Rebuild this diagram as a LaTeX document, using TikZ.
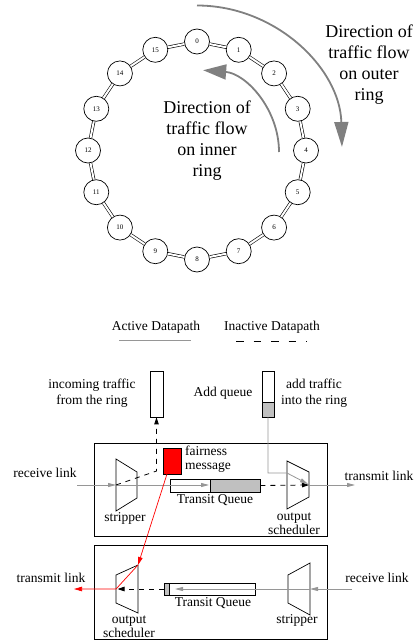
\documentclass[tikz,border=0pt]{standalone}
\usepackage{fontspec}
\setmainfont{Liberation Serif}
\usetikzlibrary{arrows.meta}
\definecolor{arcgray}{RGB}{128,128,128}
\definecolor{lgray}{RGB}{150,150,150}
\definecolor{qgray}{RGB}{192,192,192}
\begin{document}
\begin{tikzpicture}[x=1pt,y=-1pt,
  ringnode/.style={circle,draw,fill=white,minimum size=25pt,inner sep=0pt,line width=0.7pt,font=\fontsize{7}{8}\selectfont},
  ringlink/.style={draw=black,double=white,double distance=2pt,line width=0.6pt},
  flowarc/.style={draw=arcgray,line width=1.8pt,-{Triangle[length=25pt,width=14pt]}},
  flowarcb/.style={draw=arcgray,line width=1.8pt,-{Triangle[length=23pt,width=15pt]}},
  bigtext/.style={font=\fontsize{18}{21}\selectfont,align=center,inner sep=0pt},
  lbl/.style={font=\fontsize{13.5}{15.5}\selectfont,align=center,inner sep=0pt},
  lbltwo/.style={font=\fontsize{13.5}{14}\selectfont,align=center,inner sep=0pt},
  boxframe/.style={draw,line width=0.8pt,inner sep=0pt},
  qbox/.style={draw,line width=0.7pt,inner sep=0pt},
  gline/.style={draw=lgray,line width=0.8pt},
  garrow/.style={gline,-{Triangle[length=8pt,width=4pt]}},
  dline/.style={draw=black,line width=0.8pt,dash pattern=on 5pt off 5pt},
  darrow/.style={dline,-{Triangle[length=7pt,width=4.5pt]}},
  rline/.style={draw=red,line width=0.7pt},
  rarrow/.style={rline,-{Triangle[length=8pt,width=4.5pt]}},
  trap/.style={draw,line width=0.7pt},
]
\useasboundingbox (0,0) rectangle (417,642);

% ---------- ring ----------
\foreach \i in {0,...,15}{
  \node[ringnode] (n\i) at ({197+109*sin(22.5*\i)},{150.5-109*cos(22.5*\i)}) {\i};
}
\foreach \i in {0,...,15}{
  \pgfmathtruncatemacro{\j}{mod(\i+1,16)}
  \draw[ringlink] (n\i) -- (n\j);
}
\coordinate (outs) at (197,5.5);
\draw[flowarc] (outs) arc[start angle=270,end angle=358.6,radius=145];
\coordinate (ins) at (279,152);
\draw[flowarcb] (ins) arc[start angle=0,end angle=-85.7,radius=82];
\node[bigtext] (outtxt) at (369,65) {Direction of\\traffic flow\\on outer\\ring};
\node[bigtext] (intxt) at (207,141) {Direction of\\traffic flow\\on inner\\ring};

% ---------- legend ----------
\node[lbl] (act) at (156,327) {Active Datapath};
\node[lbl] (inact) at (272,327) {Inactive Datapath};
\coordinate (a1) at (119,340); \coordinate (a2) at (191,340);
\draw[gline] (a1) -- (a2);
\coordinate (i1) at (236,341); \coordinate (i2) at (307,341);
\draw[draw=black,line width=0.8pt,dash pattern=on 7.5pt off 10pt] (i1) -- (i2);

% ---------- queues above ----------
\node[qbox,minimum width=13pt,minimum height=46pt] (inq) at (156.5,394) {};
\fill[qgray] (262,402) rectangle (274,417);
\node[qbox,minimum width=12pt,minimum height=46pt] (addq) at (268,394) {};
\draw[line width=0.7pt] (262,402) -- (274,402);
\node[lbl] (inlbl) at (92,393) {incoming traffic\\from the ring};
\node[lbl] (addlbl) at (223,393) {Add queue};
\node[lbl] (addtr) at (314,393) {add traffic\\into the ring};

% ---------- boxes ----------
\node[boxframe,minimum width=233pt,minimum height=93pt] (box1) at (210.5,489.5) {};
\node[boxframe,minimum width=233pt,minimum height=94pt] (box2) at (210.5,592) {};

% top stripper
\coordinate (s1a) at (116,459); \coordinate (s1b) at (137,472);
\coordinate (s1c) at (137,498); \coordinate (s1d) at (116,511);
\draw[trap] (s1a) -- (s1b) -- (s1c) -- (s1d) -- cycle;
\coordinate (s1in) at (116,485);
% top output scheduler
\coordinate (o1a) at (287,461); \coordinate (o1b) at (309,472);
\coordinate (o1c) at (309,497); \coordinate (o1d) at (287,509);
\draw[trap] (o1a) -- (o1b) -- (o1c) -- (o1d) -- cycle;
\coordinate (o1out) at (309,485);
% top transit queue
\fill[qgray] (210,479) rectangle (260,492);
\node[qbox,minimum width=90pt,minimum height=13pt] (tq1) at (215,485.5) {};
\draw[line width=0.7pt] (210,479) -- (210,492);
\coordinate (tq1g) at (209,485);
% fairness message
\node[draw,fill=red,minimum width=18pt,minimum height=26pt,inner sep=0pt,line width=0.7pt] (fm) at (172,461) {};
\node[lbltwo,align=left,anchor=west] (fmlbl) at (185,459.5) {fairness\\message};

% bottom output scheduler
\coordinate (o2a) at (116,575); \coordinate (o2c) at (138,565);
\coordinate (o2d) at (138,613); \coordinate (o2e) at (116,603);
\draw[trap] (o2a) -- (o2c) -- (o2d) -- (o2e) -- cycle;
\coordinate (o2l) at (116,589);
% bottom stripper
\coordinate (s2a) at (288,575); \coordinate (s2b) at (310,563);
\coordinate (s2c) at (310,615); \coordinate (s2d) at (288,603);
\draw[trap] (s2a) -- (s2b) -- (s2c) -- (s2d) -- cycle;
\coordinate (s2out) at (310,589);
% bottom transit queue
\node[qbox,minimum width=91pt,minimum height=12pt] (tq2) at (209.5,589) {};
\filldraw[fill=qgray,line width=0.7pt] (164,583) rectangle (169,595);
\coordinate (tq2g) at (175,589);

% ---------- connectors ----------
\coordinate (rl1) at (77,485);
\draw[garrow] (rl1) -- (s1in);
\draw[garrow] (s1in) -- (tq1g);
\draw[darrow] (tq1.east) -- (o1out);
\coordinate (tl1) at (355,485);
\draw[garrow] (o1out) -- (tl1);
\coordinate (dc) at (156.5,471);
\draw[darrow] (s1in) -- (dc) -- (inq.south);
\coordinate (g1) at (268,473); \coordinate (g2) at (287,473); \coordinate (g3) at (308,484);
\draw[garrow] (addq.south) -- (g1) -- (g2) -- (g3);
\coordinate (fmb) at (167,474);
\draw[rarrow] (fmb) -- (o2c);
\coordinate (tl2) at (74,589);
\draw[rarrow] (o2c) -- (o2l) -- (tl2);
\coordinate (dt2) at (117.5,589);
\draw[darrow] (tq2.west) -- (dt2);
\coordinate (rl2) at (352,589);
\draw[garrow] (rl2) -- (s2out);
\draw[garrow] (s2out) -- (tq2g);

% ---------- labels ----------
\node[lbl] (rcv1) at (45,473) {receive link};
\node[lbl] (tx1) at (379,476) {transmit link};
\node[lbl] (tqt1) at (215,500) {Transit Queue};
\node[lbl] (str1) at (125,518) {stripper};
\node[lbltwo] (os1) at (294,524) {output\\scheduler};
\node[lbl] (tx2) at (51,578) {transmit link};
\node[lbl] (rcv2) at (377,578) {receive link};
\node[lbl] (tqt2) at (213,603) {Transit Queue};
\node[lbltwo] (os2) at (129,627) {output\\scheduler};
\node[lbl] (str2) at (297,620) {stripper};
\end{tikzpicture}
\end{document}
